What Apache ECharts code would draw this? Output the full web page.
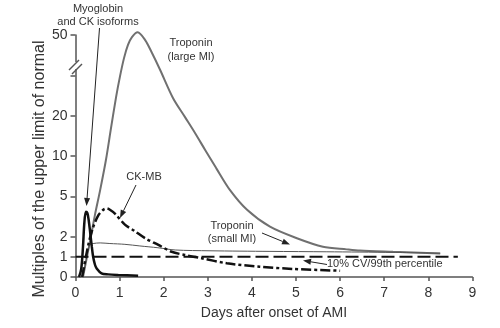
<!DOCTYPE html>
<html><head><meta charset="utf-8">
<script src="https://cdn.jsdelivr.net/npm/echarts@6/dist/echarts.min.js"></script>
<style>html,body{margin:0;padding:0;background:#fff}#c{width:500px;height:328px}</style>
</head><body><div id="c"></div>
<script>
// ---- data (days after onset, multiples of URL) ----
const myoDays = [0.08,0.13,0.17,0.20,0.235,0.27,0.30,0.33,0.37,0.40,0.44,0.48,0.59,0.74,0.97,1.42];
const myoVals = [0,0.4,1.5,3.0,3.85,3.75,3.2,2.4,1.5,1.0,0.62,0.42,0.18,0.13,0.1,0.06];

const tnLargeDays = [0.17,0.33,0.44,0.56,0.69,0.805,0.92,1.01,1.10,1.19,1.28,1.41,1.58,1.735,1.92,2.21,2.48,2.71,2.94,3.19,3.50,3.89,4.41,5.02,5.61,6.15,6.45,7.2,8.27];
const tnLargeVals = [0,1.78,3.6,5.8,9.5,16.9,26.9,34.7,41.4,46.3,49.2,51,48.1,43.3,37.0,26.6,19.7,15.7,11.5,8.5,5.8,4.0,2.74,1.92,1.5,1.37,1.31,1.25,1.17];

const tnSmallDays = [0.17,0.32,0.40,0.56,0.78,1.12,1.46,1.87,2.26,3.05,4.41,5.70,7.2,8.27];
const tnSmallVals = [0,1.59,1.66,1.69,1.66,1.62,1.54,1.45,1.34,1.30,1.27,1.25,1.22,1.18];

const ckmbDays = [0.15,0.29,0.40,0.52,0.63,0.71,0.78,0.90,1.12,1.35,1.58,1.88,2.18,2.48,2.86,3.43,4.18,4.94,6.0];
const ckmbVals = [0,1.59,2.7,3.6,4.0,4.1,4.0,3.7,2.9,2.4,1.92,1.59,1.25,1.09,0.93,0.68,0.51,0.40,0.31];

const refDays = [0, 8.67];
const refVals = [1, 1];

// y axis: non-uniform (broken) scale; real value knots -> axis units
const yKnotReal = [0,1,2,5,10,20,35,50];
const yKnotUnit = [0,1,2,4,6,8,10,12];
const yTickReal = [0,1,2,5,10,20,35,50];
const yTickText = ['0','1','2','5','10','20','','50'];

function toUnit(v){
  for (let i=1;i<yKnotReal.length;i++){
    if (v<=yKnotReal[i] || i===yKnotReal.length-1){
      const a=yKnotReal[i-1], b=yKnotReal[i];
      return yKnotUnit[i-1] + (v-a)/(b-a)*(yKnotUnit[i]-yKnotUnit[i-1]);
    }
  }
}
function pts(xs, ys){ return xs.map((x,i)=>[x, toUnit(ys[i])]); }
const yTickUnits = yTickReal.map(toUnit);
const unitLabel = {}; yTickUnits.forEach((u,i)=>unitLabel[u.toFixed(3)] = yTickText[i]);

const FONT = 'Liberation Sans, Arial, sans-serif';
const TXT = '#333';

function arrow(x1,y1,x2,y2,len,half,col){
  const a=Math.atan2(y2-y1,x2-x1), c=Math.cos(a), s=Math.sin(a);
  const bx=x2-len*c, by=y2-len*s;
  return [
    {type:'line', shape:{x1:x1,y1:y1,x2:bx,y2:by}, style:{stroke:col,lineWidth:1}, z:50},
    {type:'polygon', shape:{points:[[x2,y2],[bx-half*s,by+half*c],[bx+half*s,by-half*c]]}, style:{fill:col}, z:50}
  ];
}
function label(x,y,t,size){
  return {type:'text', x:x, y:y, style:{text:t, fill:TXT, font:(size||11)+'px '+FONT, textAlign:'center', textVerticalAlign:'middle'}, z:50};
}

const chart = echarts.init(document.getElementById('c'), null, {renderer:'canvas', width:500, height:328});
const lineBase = {type:'line', showSymbol:false, clip:false, animation:false, smooth:0.3};

chart.setOption({
  animation:false,
  grid:{left:75.5, right:27.6, top:35, bottom:51},
  xAxis:{type:'value', min:0, max:9, interval:1,
    axisLine:{lineStyle:{color:'#555', width:1.5}},
    axisTick:{length:4, lineStyle:{color:'#555', width:1.5}},
    axisLabel:{color:TXT, fontSize:14, margin:9, fontFamily:FONT},
    splitLine:{show:false},
    name:'Days after onset of AMI', nameLocation:'middle', nameGap:29,
    nameTextStyle:{color:TXT, fontSize:14, fontFamily:FONT}},
  yAxis:{type:'value', min:0, max:12,
    axisLine:{show:true, lineStyle:{color:'#555', width:1.5}},
    axisTick:{show:true, length:5, customValues:yTickUnits, lineStyle:{color:'#555', width:1.5}},
    axisLabel:{customValues:yTickUnits, color:TXT, fontSize:14, margin:8, fontFamily:FONT,
      formatter:v=>unitLabel[(+v).toFixed(3)] ?? ''},
    splitLine:{show:false}},
  series:[
    Object.assign({}, lineBase, {name:'Troponin (large MI)', data:pts(tnLargeDays,tnLargeVals), lineStyle:{color:'#707070', width:2}}),
    Object.assign({}, lineBase, {name:'Troponin (small MI)', data:pts(tnSmallDays,tnSmallVals), lineStyle:{color:'#555', width:1}}),
    Object.assign({}, lineBase, {name:'10% CV/99th percentile', smooth:false, data:pts(refDays,refVals), lineStyle:{color:'#111', width:2, type:[13,5]}}),
    Object.assign({}, lineBase, {name:'CK-MB', data:pts(ckmbDays,ckmbVals), lineStyle:{color:'#111', width:2.5, type:[10,3,3,3]}}),
    Object.assign({}, lineBase, {name:'Myoglobin and CK isoforms', data:pts(myoDays,myoVals), lineStyle:{color:'#111', width:2.5}})
  ],
  graphic:[].concat(
    // y axis title
    [{type:'text', x:40, y:169, rotation:Math.PI/2, style:{text:'Multiples of the upper limit of normal', fill:TXT, font:'16px '+FONT, textAlign:'center', textVerticalAlign:'middle'}, z:50}],
    // axis break marker
    [{type:'rect', shape:{x:72,y:62,width:8,height:7}, style:{fill:'#fff'}, z:60},
     {type:'line', shape:{x1:69,y1:70,x2:79,y2:60}, style:{stroke:'#555',lineWidth:1.5}, z:61},
     {type:'line', shape:{x1:72,y1:74,x2:82,y2:64}, style:{stroke:'#555',lineWidth:1.5}, z:61}],
    [label(98,9,'Myoglobin'), label(98,22,'and CK isoforms')],
    arrow(99.5,28,86.5,206,8,3,'#222'),
    [label(191,43,'Troponin'), label(191,57,'(large MI)')],
    [label(144,177,'CK-MB')],
    arrow(136,185,120,218,8,3,'#222'),
    [label(232,226,'Troponin'), label(232,239,'(small MI)')],
    arrow(262,233,290,244.5,8,3,'#222'),
    [{type:'text', x:327, y:264, style:{text:'10% CV/99th percentile', fill:TXT, font:'11px '+FONT, textAlign:'left', textVerticalAlign:'middle'}, z:50}],
    arrow(327,264.5,303,260.5,8,3,'#222')
  )
});
</script></body></html>
